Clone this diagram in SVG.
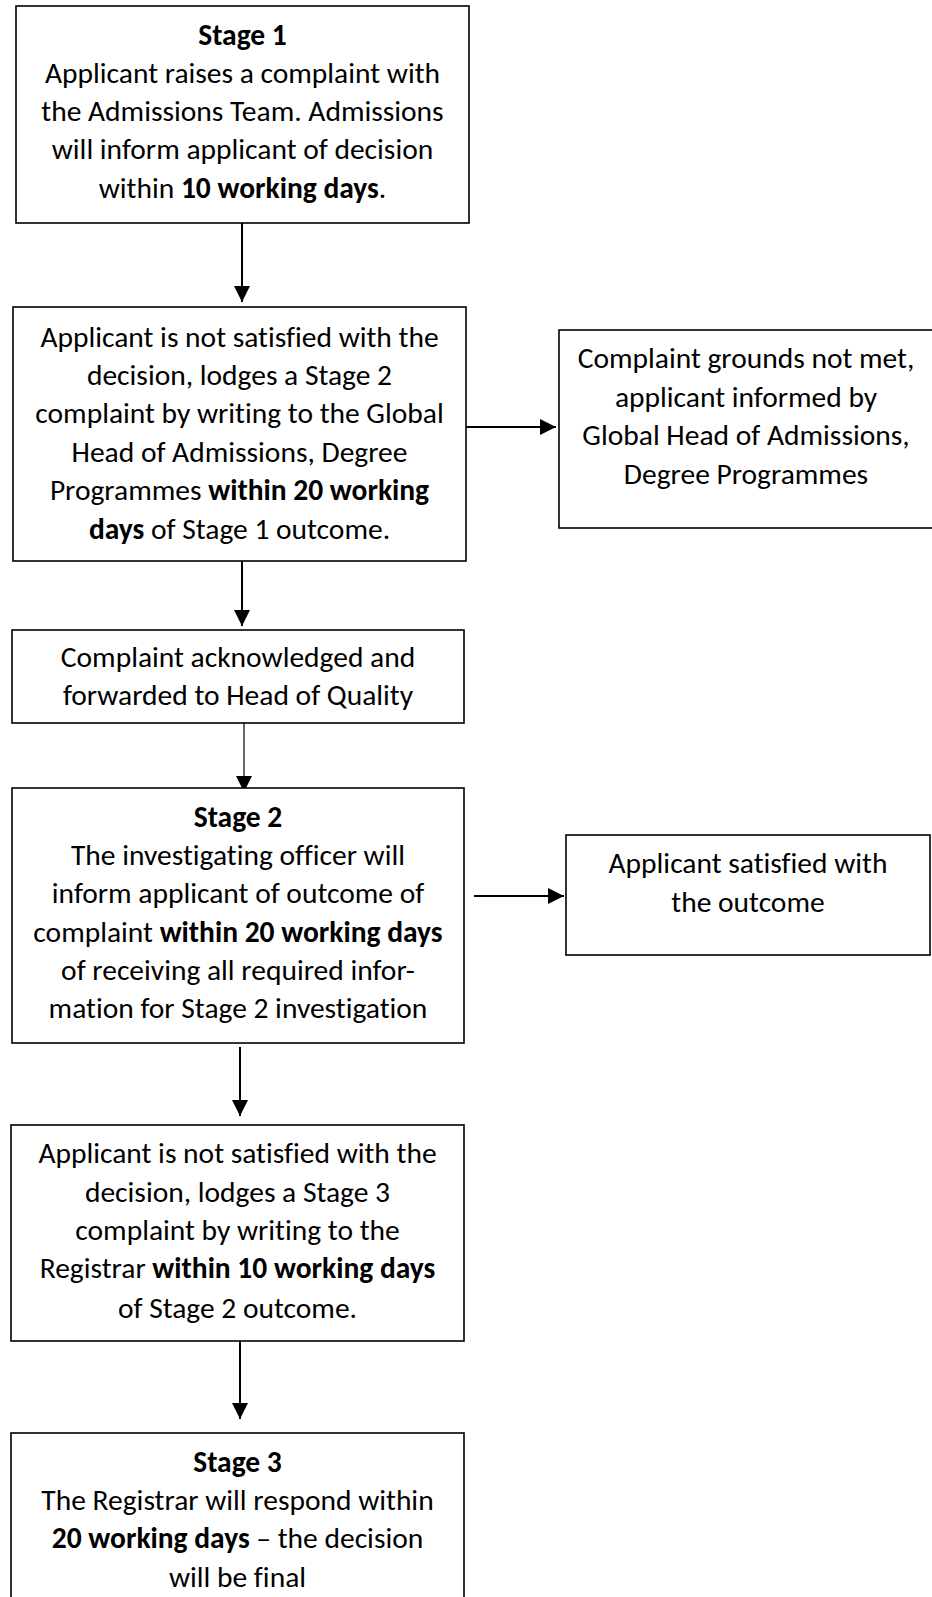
<svg xmlns="http://www.w3.org/2000/svg" width="932" height="1597" viewBox="0 0 932 1597">
<style>
.box{fill:#fff;stroke:#000;stroke-width:1.6}
.t{font-family:Carlito,Lato,"Liberation Sans",sans-serif;font-size:29.5px;fill:#000;text-anchor:middle;font-variant-ligatures:none}
.b{font-weight:bold}
.c{stroke:#000;stroke-width:2;fill:none}
.thin{stroke:#000;stroke-width:1.2;fill:none}
</style>
<defs>
<marker id="ah" markerUnits="userSpaceOnUse" markerWidth="18" markerHeight="16" refX="16" refY="8" orient="auto">
<path d="M0,0 L16,8 L0,16 Z" fill="#000"/>
</marker>
</defs>
<rect width="932" height="1597" fill="#fff"/>
<g id="connectors">
<line class="c" x1="242" y1="223" x2="242" y2="302" marker-end="url(#ah)"/>
<line class="c" x1="466" y1="427" x2="556" y2="427" marker-end="url(#ah)"/>
<line class="c" x1="242" y1="561" x2="242" y2="626" marker-end="url(#ah)"/>
<line class="thin" x1="244" y1="723" x2="244" y2="792" marker-end="url(#ah)"/>
<line class="c" x1="474" y1="896" x2="564" y2="896" marker-end="url(#ah)"/>
<line class="c" x1="240" y1="1047" x2="240" y2="1116" marker-end="url(#ah)"/>
<line class="c" x1="240" y1="1341" x2="240" y2="1419" marker-end="url(#ah)"/>
</g>
<g id="stage1">
<rect class="box" x="16" y="6" width="453" height="217"/>
<text class="t" x="242.5" y="45"><tspan class="b">Stage 1</tspan></text>
<text class="t" x="242.5" y="83">Applicant raises a complaint with</text>
<text class="t" x="242.5" y="121">the Admissions Team. Admissions</text>
<text class="t" x="242.5" y="159">will inform applicant of decision</text>
<text class="t" x="242.5" y="198">within <tspan class="b">10 working days</tspan>.</text>
</g>
<g id="lodge2">
<rect class="box" x="13" y="307" width="453" height="254"/>
<text class="t" x="239.5" y="347">Applicant is not satisfied with the</text>
<text class="t" x="239.5" y="385">decision, lodges a Stage 2</text>
<text class="t" x="239.5" y="423">complaint by writing to the Global</text>
<text class="t" x="239.5" y="462">Head of Admissions, Degree</text>
<text class="t" x="239.5" y="500">Programmes <tspan class="b">within 20 working</tspan></text>
<text class="t" x="239.5" y="539"><tspan class="b">days</tspan> of Stage 1 outcome.</text>
</g>
<g id="notmet">
<rect class="box" x="559" y="330" width="380" height="198"/>
<text class="t" x="746" y="368">Complaint grounds not met,</text>
<text class="t" x="746" y="407">applicant informed by</text>
<text class="t" x="746" y="445">Global Head of Admissions,</text>
<text class="t" x="746" y="484">Degree Programmes</text>
</g>
<g id="ack">
<rect class="box" x="12" y="630" width="452" height="93"/>
<text class="t" x="238" y="667">Complaint acknowledged and</text>
<text class="t" x="238" y="705">forwarded to Head of Quality</text>
</g>
<g id="stage2">
<rect class="box" x="12" y="788" width="452" height="255"/>
<text class="t" x="238" y="827"><tspan class="b">Stage 2</tspan></text>
<text class="t" x="238" y="865">The investigating officer will</text>
<text class="t" x="238" y="903">inform applicant of outcome of</text>
<text class="t" x="238" y="942">complaint <tspan class="b">within 20 working days</tspan></text>
<text class="t" x="238" y="980">of receiving all required infor-</text>
<text class="t" x="238" y="1018">mation for Stage 2 investigation</text>
</g>
<g id="satisfied">
<rect class="box" x="566" y="835" width="364" height="120"/>
<text class="t" x="748" y="873">Applicant satisfied with</text>
<text class="t" x="748" y="912">the outcome</text>
</g>
<g id="lodge3">
<rect class="box" x="11" y="1125" width="453" height="216"/>
<text class="t" x="237.5" y="1163">Applicant is not satisfied with the</text>
<text class="t" x="237.5" y="1202">decision, lodges a Stage 3</text>
<text class="t" x="237.5" y="1240">complaint by writing to the</text>
<text class="t" x="237.5" y="1278">Registrar <tspan class="b">within 10 working days</tspan></text>
<text class="t" x="237.5" y="1318">of Stage 2 outcome.</text>
</g>
<g id="stage3">
<rect class="box" x="11" y="1433" width="453" height="180"/>
<text class="t" x="237.5" y="1472"><tspan class="b">Stage 3</tspan></text>
<text class="t" x="237.5" y="1510">The Registrar will respond within</text>
<text class="t" x="237.5" y="1548"><tspan class="b">20 working days</tspan> – the decision</text>
<text class="t" x="237.5" y="1587">will be final</text>
</g>
</svg>
